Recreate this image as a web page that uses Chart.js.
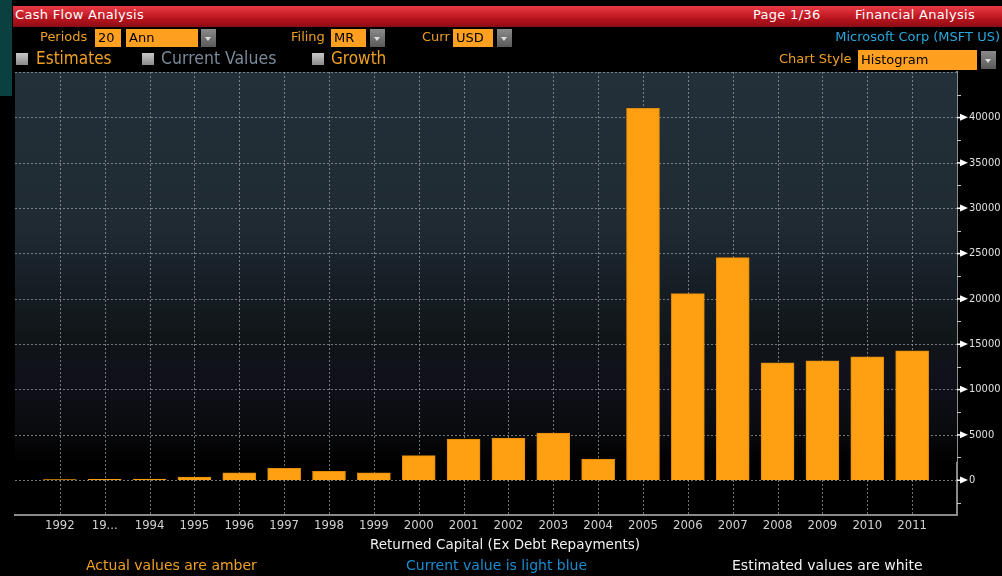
<!DOCTYPE html>
<html>
<head>
<meta charset="utf-8">
<script src="https://cdn.jsdelivr.net/npm/chart.js"></script>
<style>
  body { margin: 0; background: #000; width: 1002px; height: 576px; overflow: hidden; position: relative;
         font-family: "DejaVu Sans", sans-serif; }
  #c { position: absolute; left: 0; top: 0; }
  .abs { position: absolute; white-space: nowrap; }
  .strip { left: 0; top: 0; width: 12px; height: 96px; background: #0b4040; }
  .bar { left: 13px; top: 6px; width: 989px; height: 21px; background: linear-gradient(#ea3a44, #b8141e 60%, #8c0c14); }
  .hdr { color: #fff; font-size: 13px; top: 7px; letter-spacing: 0.3px; }
  .amb { color: #f0a020; }
  .box { background: #ffa020; color: #000; font-size: 13px; height: 18px; line-height: 18px; padding-left: 3px; box-sizing: border-box; }
  .dd { width: 15px; height: 18px; background: linear-gradient(#8a8a8a, #5a5a5a); }
  .dd:after { content: ""; position: absolute; left: 4px; top: 8px; border-left: 3px solid transparent; border-right: 3px solid transparent; border-top: 4px solid #ddd; }
  .cb { width: 12px; height: 12px; background: linear-gradient(#c8c8c8, #8a8a8a); }
  .big { font-family: "DejaVu Sans Condensed", "DejaVu Sans", sans-serif; font-stretch: condensed; font-size: 17px; top: 48px; }
</style>
</head>
<body>
<canvas id="c" width="1002" height="576"></canvas>

<div class="abs strip"></div>
<div class="abs bar"></div>
<div class="abs hdr" style="left:15px">Cash Flow Analysis</div>
<div class="abs hdr" style="left:753px">Page 1/36</div>
<div class="abs hdr" style="left:855px">Financial Analysis</div>

<div class="abs amb" style="left:40px;top:29px;font-size:13px">Periods</div>
<div class="abs box" style="left:95px;top:29px;width:26px">20</div>
<div class="abs box" style="left:126px;top:29px;width:72px">Ann</div>
<div class="abs dd" style="left:201px;top:29px"></div>
<div class="abs amb" style="left:291px;top:29px;font-size:13px">Filing</div>
<div class="abs box" style="left:331px;top:29px;width:35px">MR</div>
<div class="abs dd" style="left:370px;top:29px"></div>
<div class="abs amb" style="left:422px;top:29px;font-size:13px">Curr</div>
<div class="abs box" style="left:453px;top:29px;width:40px">USD</div>
<div class="abs dd" style="left:497px;top:29px"></div>
<div class="abs" style="right:2px;top:29px;font-size:13px;color:#28a8e0">Microsoft Corp (MSFT US)</div>

<div class="abs cb" style="left:16px;top:53px"></div>
<div class="abs amb big" style="left:36px">Estimates</div>
<div class="abs cb" style="left:142px;top:53px"></div>
<div class="abs big" style="left:161px;color:#7a8a9a;font-size:17.5px">Current Values</div>
<div class="abs cb" style="left:312px;top:53px"></div>
<div class="abs amb big" style="left:331px">Growth</div>
<div class="abs amb" style="left:779px;top:51px;font-size:13px">Chart Style</div>
<div class="abs box" style="left:858px;top:50px;width:119px;height:20px;line-height:20px">Histogram</div>
<div class="abs dd" style="left:981px;top:51px"></div>

<div class="abs" style="left:370px;top:536px;font-size:13.5px;color:#f0f0f0">Returned Capital (Ex Debt Repayments)</div>
<div class="abs amb" style="left:86px;top:557px;font-size:14px">Actual values are amber</div>
<div class="abs" style="left:406px;top:557px;font-size:14px;color:#1a8cd0">Current value is light blue</div>
<div class="abs" style="left:732px;top:557px;font-size:14px;color:#f0f0f0">Estimated values are white</div>

<script>
// fiscal years and returned capital (USD mn)
const years = ['1992', '1993', '1994', '1995', '1996', '1997', '1998', '1999', '2000', '2001',
               '2002', '2003', '2004', '2005', '2006', '2007', '2008', '2009', '2010', '2011'];
const tickLabels = ['1992', '19...', '1994', '1995', '1996', '1997', '1998', '1999', '2000', '2001',
                    '2002', '2003', '2004', '2005', '2006', '2007', '2008', '2009', '2010', '2011'];
const returnedCapital = [40, 80, 90, 330, 800, 1290, 960, 800, 2690, 4520,
                         4630, 5180, 2320, 41000, 20550, 24530, 12930, 13150, 13590, 14250];
const yTickValues = [0, 5000, 10000, 15000, 20000, 25000, 30000, 35000, 40000];
const yGridValues = [0, 5000, 10000, 15000, 20000, 25000, 30000, 35000, 40000, 45000];
const yMinorValues = [-2500, 2500, 7500, 12500, 17500, 22500, 27500, 32500, 37500, 42500];

// empty slot at each end so the years sit one step in from the edges
const labels = [''].concat(tickLabels, ['']);
const values = [null].concat(returnedCapital, [null]);

const panel = {
    id: 'panel',
    beforeDatasetsDraw(chart) {
        const { ctx, chartArea: a, scales: { x, y } } = chart;
        ctx.save();
        const g = ctx.createLinearGradient(0, a.top, 0, y.getPixelForValue(2000));
        g.addColorStop(0, '#243039');
        g.addColorStop(0.4, '#1f2a32');
        g.addColorStop(0.55, '#161e25');
        g.addColorStop(0.68, '#101618');
        g.addColorStop(0.8, '#10101a');
        g.addColorStop(0.92, '#0a0b0e');
        g.addColorStop(1, '#000000');
        ctx.fillStyle = g;
        ctx.fillRect(a.left, a.top, a.right - a.left, y.getPixelForValue(2000) - a.top);

        ctx.strokeStyle = 'rgba(150,155,160,0.75)';
        ctx.lineWidth = 1;
        ctx.setLineDash([2, 2]);
        yGridValues.forEach(v => {
            const py = Math.round(y.getPixelForValue(v)) + 0.5;
            ctx.beginPath(); ctx.moveTo(a.left, py); ctx.lineTo(a.right, py); ctx.stroke();
        });
        for (let i = 1; i <= years.length; i++) {
            const px = Math.round(x.getPixelForTick(i)) + 0.5;
            ctx.beginPath(); ctx.moveTo(px, a.top); ctx.lineTo(px, a.bottom); ctx.stroke();
        }
        ctx.restore();
    },
    afterDraw(chart) {
        const { ctx, chartArea: a, scales: { y } } = chart;
        ctx.save();
        ctx.fillStyle = '#ffffff';
        yTickValues.forEach(v => {
            const py = y.getPixelForValue(v);
            ctx.fillRect(a.right, py - 0.5, 4, 1.5);
            ctx.beginPath();
            ctx.moveTo(a.right + 3, py - 3.5);
            ctx.lineTo(a.right + 11, py);
            ctx.lineTo(a.right + 3, py + 3.5);
            ctx.closePath();
            ctx.fill();
        });
        ctx.strokeStyle = '#c8c8c8';
        ctx.lineWidth = 1;
        yMinorValues.forEach(v => {
            const py = Math.round(y.getPixelForValue(v)) + 0.5;
            ctx.beginPath(); ctx.moveTo(a.right, py); ctx.lineTo(a.right + 4, py); ctx.stroke();
        });
        ctx.restore();
    }
};

new Chart(document.getElementById('c'), {
    type: 'bar',
    data: {
        labels: labels,
        datasets: [{
            label: 'Returned Capital (Ex Debt Repayments)',
            data: values,
            backgroundColor: '#ffa012',
            borderColor: '#e08a0a',
            borderWidth: 1,
            barThickness: 33
        }]
    },
    options: {
        responsive: false,
        animation: false,
        devicePixelRatio: 1,
        layout: { padding: { left: 15, top: 72, right: 0, bottom: 0 } },
        plugins: { legend: { display: false }, tooltip: { enabled: false } },
        scales: {
            x: {
                offset: false,
                grid: { display: false, drawTicks: false },
                border: { color: '#8a8a8a', width: 2 },
                ticks: {
                    color: '#d0d0d0', autoSkip: false, maxRotation: 0, padding: 3,
                    font: { family: 'DejaVu Sans Condensed', size: 13 }
                },
                afterFit: s => { s.height = 61; }
            },
            y: {
                position: 'right',
                min: -3860,
                max: 45000,
                grid: { display: false, drawTicks: false },
                border: { color: '#8a8a8a', width: 2 },
                afterBuildTicks: s => { s.ticks = yTickValues.map(v => ({ value: v })); },
                ticks: {
                    color: '#e0e0e0', padding: 12,
                    callback: v => String(v),
                    font: { family: 'DejaVu Sans Condensed', size: 11 }
                },
                afterFit: s => { s.width = 45; }
            }
        }
    },
    plugins: [panel]
});
</script>
</body>
</html>
